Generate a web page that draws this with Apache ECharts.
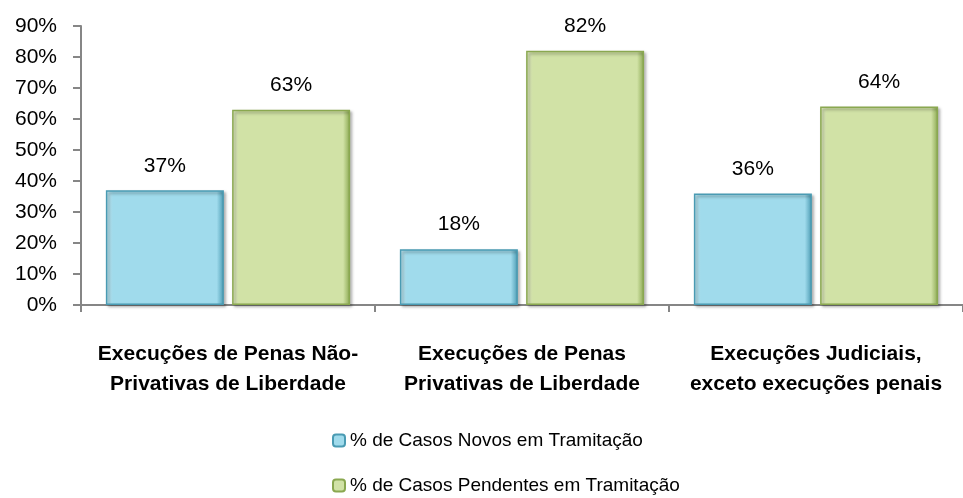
<!DOCTYPE html>
<html>
<head>
<meta charset="utf-8">
<script src="https://cdn.jsdelivr.net/npm/echarts@6/dist/echarts.min.js"></script>
<style>
  html, body { margin: 0; padding: 0; background: #fff; }
  #chart { width: 963px; height: 498px; }
</style>
</head>
<body>
<div id="chart"></div>
<script>
  const categories = [
    'Execuções de Penas Não-\nPrivativas de Liberdade',
    'Execuções de Penas\nPrivativas de Liberdade',
    'Execuções Judiciais,\nexceto execuções penais'
  ];
  const seriesNames = ['% de Casos Novos em Tramitação', '% de Casos Pendentes em Tramitação'];
  const novos = [37, 18, 36];
  const pendentes = [63, 82, 64];
  const yTicks = [0, 10, 20, 30, 40, 50, 60, 70, 80, 90];

  const font = 'Liberation Sans';

  function barStyle(fill, light, dark) {
    return {
      color: {
        type: 'linear', x: 0, y: 0, x2: 1, y2: 0,
        colorStops: [
          { offset: 0, color: light },
          { offset: 0.06, color: fill },
          { offset: 0.94, color: fill },
          { offset: 1, color: dark }
        ]
      },
      borderColor: dark,
      borderWidth: 1.5,
      shadowColor: 'rgba(0,0,0,0.35)',
      shadowBlur: 3,
      shadowOffsetX: 2,
      shadowOffsetY: 2
    };
  }

  const chart = echarts.init(document.getElementById('chart'));
  chart.setOption({
    animation: false,
    grid: { left: 81, top: 26, width: 888, height: 279, containLabel: false },
    legend: {
      orient: 'vertical',
      left: 332,
      top: 431,
      padding: 0,
      itemWidth: 12,
      itemHeight: 12,
      itemGap: 26,
      textStyle: { fontFamily: font, fontSize: 19, color: '#000' },
      data: seriesNames
    },
    xAxis: {
      type: 'category',
      data: categories,
      axisLine: { lineStyle: { color: '#868686', width: 2 } },
      axisTick: { show: true, length: 7, lineStyle: { color: '#868686', width: 2 } },
      axisLabel: {
        margin: 34,
        fontFamily: font,
        fontSize: 21,
        fontWeight: 'bold',
        color: '#000',
        lineHeight: 30,
        interval: 0
      }
    },
    yAxis: {
      type: 'value',
      min: 0,
      max: 90,
      interval: 10,
      splitLine: { show: false },
      axisLine: { show: true, lineStyle: { color: '#868686', width: 2 } },
      axisTick: { show: true, length: 8, lineStyle: { color: '#868686', width: 2 } },
      axisLabel: {
        margin: 24,
        fontFamily: font,
        fontSize: 21,
        color: '#000',
        formatter: function (v) { return yTicks.indexOf(v) >= 0 ? v + '%' : ''; }
      }
    },
    series: [
      {
        name: seriesNames[0],
        type: 'bar',
        data: novos,
        barWidth: 118,
        barGap: '7%',
        itemStyle: barStyle('#a0dbec', '#c8eef8', '#4a9bb3'),
        label: {
          show: true, position: 'top', distance: 14,
          fontFamily: font, fontSize: 21, color: '#000',
          formatter: '{c}%'
        }
      },
      {
        name: seriesNames[1],
        type: 'bar',
        data: pendentes,
        barWidth: 118,
        itemStyle: barStyle('#d1e2a6', '#e6f2c8', '#8aa850'),
        label: {
          show: true, position: 'top', distance: 14,
          fontFamily: font, fontSize: 21, color: '#000',
          formatter: '{c}%'
        }
      }
    ]
  });
</script>
</body>
</html>
